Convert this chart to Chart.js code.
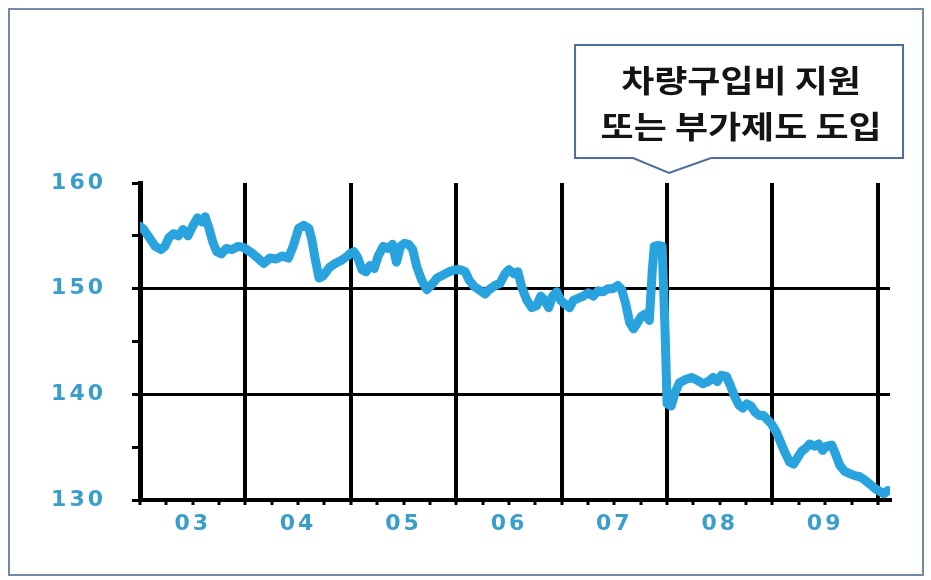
<!DOCTYPE html>
<html lang="ko">
<head>
<meta charset="utf-8">
<title>차량구입비 지원 또는 부가제도 도입</title>
<script src="https://cdn.jsdelivr.net/npm/chart.js@4.4.1/dist/chart.umd.min.js"></script>
<style>
  html, body { margin: 0; padding: 0; background: #ffffff; }
  #wrap { width: 931px; height: 580px; position: relative; }
</style>
</head>
<body>
<div id="wrap"><canvas id="chart" width="931" height="580"></canvas></div>
<script>
// Time axis (decimal years) and index values of the series
const years = [
  2003.000, 2003.036, 2003.091, 2003.145, 2003.200, 2003.236, 2003.273, 2003.318, 2003.364, 2003.409,
  2003.455, 2003.500, 2003.545, 2003.591, 2003.618, 2003.655, 2003.691, 2003.727, 2003.773, 2003.818,
  2003.873, 2003.927, 2003.982,
  2004.058, 2004.117, 2004.175, 2004.233, 2004.291, 2004.350, 2004.408, 2004.456, 2004.505, 2004.553,
  2004.602, 2004.631, 2004.660, 2004.699, 2004.738, 2004.796, 2004.854, 2004.913, 2004.971, 2004.990,
  2005.029, 2005.067, 2005.106, 2005.144, 2005.183, 2005.221, 2005.260, 2005.308, 2005.356, 2005.394,
  2005.433, 2005.471, 2005.510, 2005.548, 2005.587, 2005.625, 2005.673, 2005.721, 2005.769, 2005.817,
  2005.875, 2005.933, 2005.990,
  2006.038, 2006.085, 2006.123, 2006.170, 2006.217, 2006.274, 2006.311, 2006.368, 2006.415, 2006.462,
  2006.500, 2006.547, 2006.585, 2006.623, 2006.670, 2006.717, 2006.764, 2006.802, 2006.840, 2006.877,
  2006.915, 2006.953, 2006.991,
  2007.037, 2007.075, 2007.112, 2007.159, 2007.206, 2007.252, 2007.299, 2007.346, 2007.393, 2007.439,
  2007.486, 2007.533, 2007.570, 2007.607, 2007.645, 2007.682, 2007.720, 2007.757, 2007.794, 2007.832,
  2007.860, 2007.879, 2007.916, 2007.953, 2007.981, 2008.000,
  2008.039, 2008.078, 2008.117, 2008.175, 2008.233, 2008.291, 2008.340, 2008.388, 2008.437, 2008.476,
  2008.515, 2008.563, 2008.602, 2008.641, 2008.680, 2008.718, 2008.757, 2008.796, 2008.835, 2008.874,
  2008.913, 2008.951, 2008.990,
  2009.038, 2009.076, 2009.114, 2009.162, 2009.200, 2009.238, 2009.276, 2009.314, 2009.352, 2009.400,
  2009.438, 2009.476, 2009.514, 2009.562, 2009.600, 2009.638, 2009.686, 2009.733, 2009.781, 2009.829,
  2009.876, 2009.924, 2009.971, 2010.019, 2010.057, 2010.095
];
const values = [
  155.9, 155.6, 154.8, 154.0, 153.7, 154.0, 154.8, 155.2, 155.0, 155.6,
  155.0, 155.9, 156.7, 156.3, 156.8, 155.7, 154.4, 153.5, 153.3, 153.8,
  153.7, 154.0, 153.9,
  153.4, 152.9, 152.4, 152.9, 152.8, 153.1, 152.9, 154.1, 155.7, 156.0,
  155.7, 154.6, 152.9, 151.0, 151.2, 152.0, 152.4, 152.7, 153.1, 153.3,
  153.5, 152.9, 151.8, 151.6, 152.2, 151.9, 153.1, 154.0, 153.8, 154.2,
  152.5, 154.0, 154.3, 154.2, 153.7, 152.1, 150.8, 149.9, 150.4, 151.0,
  151.3, 151.6, 151.8,
  151.8, 151.6, 150.8, 150.2, 149.9, 149.5, 149.9, 150.3, 150.5, 151.4,
  151.8, 151.4, 151.6, 150.1, 148.9, 148.2, 148.4, 149.3, 148.9, 148.2,
  149.3, 149.7, 148.9,
  148.5, 148.2, 148.9, 149.1, 149.3, 149.6, 149.3, 149.8, 149.7, 150.0,
  150.0, 150.3, 149.9, 148.6, 146.8, 146.2, 146.8, 147.4, 147.6, 147.0,
  151.8, 154.0, 154.1, 154.0, 146.1, 139.1,
  138.9, 140.2, 141.1, 141.4, 141.6, 141.3, 141.0, 141.2, 141.6, 141.2,
  141.8, 141.7, 140.8, 139.8, 139.0, 138.7, 139.1, 138.9, 138.3, 138.0,
  138.0, 137.6, 137.2,
  136.4, 135.5, 134.6, 133.6, 133.4, 134.0, 134.6, 134.9, 135.3, 135.1,
  135.3, 134.7, 135.1, 135.2, 134.3, 133.3, 132.7, 132.5, 132.3, 132.2,
  131.9, 131.5, 131.1, 130.8, 130.6, 130.9
];

// Year labels sit mid-way between the yearly grid lines
const firstYear = 2003;
const yearLabels = ['03', '04', '05', '06', '07', '08', '09'];
const yTickLabels = [130, 140, 150, 160];
const calloutLines = ['차량구입비 지원', '또는 부가제도 도입'];
const calloutYear = 2008;

const LINE_BLUE = '#29a3dd';
const LABEL_BLUE = '#3a9ecb';

const points = years.map((x, i) => ({ x: x, y: values[i] }));

const isWhole = v => Math.abs(v - Math.round(v)) < 1e-6;

// Frame around the figure plus the callout box above the plot
const decorations = {
  id: 'decorations',
  beforeDraw(chart) {
    const ctx = chart.ctx;
    ctx.save();
    ctx.fillStyle = '#ffffff';
    ctx.fillRect(0, 0, chart.width, chart.height);
    ctx.strokeStyle = '#7489a6';
    ctx.lineWidth = 2;
    ctx.strokeRect(9, 9, 914, 566);
    ctx.restore();
    // wide-set digits on the axis labels
    ctx.letterSpacing = '3px';
  },
  afterDraw(chart) {
    const ctx = chart.ctx;
    ctx.letterSpacing = '0px';
    const tipX = chart.scales.x.getPixelForValue(calloutYear) + 2;
    const tipY = 173;
    const left = tipX - 94, right = tipX + 234, top = 45, bottom = 158;
    ctx.save();
    ctx.beginPath();
    ctx.moveTo(left, top);
    ctx.lineTo(right, top);
    ctx.lineTo(right, bottom);
    ctx.lineTo(tipX + 42, bottom);
    ctx.lineTo(tipX, tipY);
    ctx.lineTo(tipX - 36, bottom);
    ctx.lineTo(left, bottom);
    ctx.closePath();
    ctx.fillStyle = '#ffffff';
    ctx.fill();
    ctx.strokeStyle = '#4d6d9c';
    ctx.lineWidth = 2;
    ctx.stroke();
    ctx.fillStyle = '#141414';
    ctx.font = 'bold 31px "Noto Sans CJK KR", sans-serif';
    ctx.textAlign = 'center';
    ctx.textBaseline = 'middle';
    const cx = (left + right) / 2 + 2;
    // slightly widened lettering
    ctx.translate(cx, 0);
    ctx.scale(1.16, 1);
    ctx.fillText(calloutLines[0], 0, 80);
    ctx.fillText(calloutLines[1], 0, 126);
    ctx.restore();
  }
};

new Chart(document.getElementById('chart'), {
  type: 'line',
  data: {
    datasets: [{
      data: points,
      borderColor: LINE_BLUE,
      borderWidth: 9,
      borderJoinStyle: 'round',
      borderCapStyle: 'round',
      pointRadius: 0,
      tension: 0,
      fill: false
    }]
  },
  options: {
    responsive: false,
    animation: false,
    events: [],
    layout: { padding: { top: 183, right: 41, left: 0, bottom: 0 } },
    plugins: {
      legend: { display: false },
      tooltip: { enabled: false }
    },
    scales: {
      x: {
        type: 'linear',
        min: firstYear,
        max: 2010.115,
        afterBuildTicks(scale) {
          const ticks = [];
          for (let q = 0; q <= yearLabels.length * 4; q++) {
            ticks.push({ value: firstYear + q / 4 });
          }
          scale.ticks = ticks;
        },
        afterFit(scale) { scale.height = 80; },
        ticks: {
          autoSkip: false,
          maxRotation: 0,
          padding: 6,
          color: LABEL_BLUE,
          font: { family: 'DejaVu Sans', size: 22, weight: 'bold' },
          callback(value) {
            const offset = value - firstYear;
            const frac = offset - Math.floor(offset);
            if (Math.abs(frac - 0.5) < 1e-6) {
              return yearLabels[Math.floor(offset)] || '';
            }
            return '';
          }
        },
        grid: {
          color: c => (c.tick && isWhole(c.tick.value) && c.tick.value > firstYear) ? '#000000' : 'rgba(0,0,0,0)',
          lineWidth: 4,
          drawTicks: true,
          tickLength: 5,
          tickWidth: 3,
          tickColor: '#000000'
        },
        border: { display: true, color: '#000000', width: 4 }
      },
      y: {
        min: 130,
        max: 160,
        afterFit(scale) { scale.width = 140; },
        ticks: {
          stepSize: 5,
          padding: 26,
          color: LABEL_BLUE,
          font: { family: 'DejaVu Sans', size: 22, weight: 'bold' },
          callback: value => yTickLabels.includes(value) ? String(value) : ''
        },
        grid: {
          color: c => (c.tick && (c.tick.value === 150 || c.tick.value === 140)) ? '#000000' : 'rgba(0,0,0,0)',
          lineWidth: 3,
          drawTicks: true,
          tickLength: 8,
          tickWidth: 3,
          tickColor: '#000000'
        },
        border: { display: true, color: '#000000', width: 5 }
      }
    }
  },
  plugins: [decorations]
});
</script>
</body>
</html>
